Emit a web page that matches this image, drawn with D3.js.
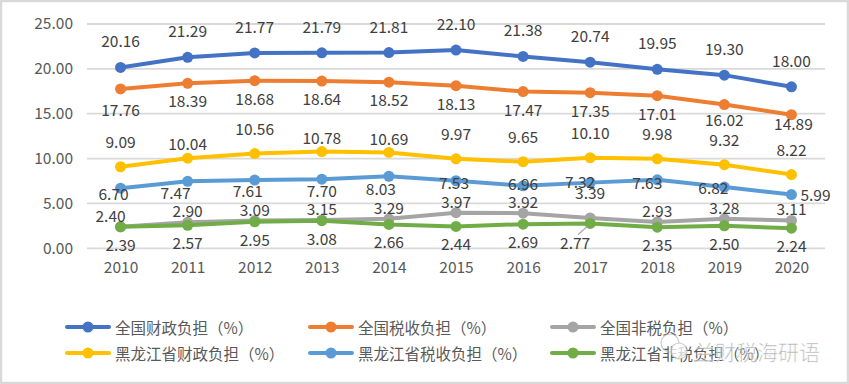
<!DOCTYPE html>
<html><head><meta charset="utf-8">
<script src="https://cdn.jsdelivr.net/npm/d3@7"></script>
<style>
html,body{margin:0;padding:0;background:#fff;}
svg{display:block;}
text{font-family:"Noto Sans CJK SC","Noto Sans",sans-serif;}
</style></head>
<body>
<svg id="c" width="849" height="384"></svg>
<script>
const years = ["2010","2011","2012","2013","2014","2015","2016","2017","2018","2019","2020"];
const yTicks = [0,5,10,15,20,25];
const natFiscal = [20.16,21.29,21.77,21.79,21.81,22.10,21.38,20.74,19.95,19.30,18.00];
const natTax = [17.76,18.39,18.68,18.64,18.52,18.13,17.47,17.35,17.01,16.02,14.89];
const natNonTax = [2.40,2.90,3.09,3.15,3.29,3.97,3.92,3.39,2.93,3.28,3.11];
const hljFiscal = [9.09,10.04,10.56,10.78,10.69,9.97,9.65,10.10,9.98,9.32,8.22];
const hljTax = [6.70,7.47,7.61,7.70,8.03,7.53,6.96,7.32,7.63,6.82,5.99];
const hljNonTax = [2.39,2.57,2.95,3.08,2.66,2.44,2.69,2.77,2.35,2.50,2.24];
const seriesNames = ["全国财政负担（%）","全国税收负担（%）","全国非税负担（%）","黑龙江省财政负担（%）","黑龙江省税收负担（%）","黑龙江省非税负担（%）"];

const series = [
  {name:seriesNames[0], values:natFiscal, color:"#4472C4", dy:-27, dx:0},
  {name:seriesNames[1], values:natTax, color:"#ED7D31", dy:17, dx:0},
  {name:seriesNames[2], values:natNonTax, color:"#A5A5A5", dy:-12, dx:0},
  {name:seriesNames[3], values:hljFiscal, color:"#FFC000", dy:-26, dx:0},
  {name:seriesNames[4], values:hljTax, color:"#5B9BD5", dy:5, dx:-7},
  {name:seriesNames[5], values:hljNonTax, color:"#70AD47", dy:17, dx:0}
];

// label placement tweaks (layout only): [seriesIndex, yearIndex, dx, dy]
const labelTweaks = [
  [1,0,0,20],[1,9,0,14],[1,10,2,8],
  [2,0,-10,-12],[2,7,0,-26],
  [3,1,0,-15],[3,3,0,-15],[3,4,0,-14],
  [4,1,-12,11],[4,2,-7,10],[4,3,0,11],[4,4,-8,12],[4,5,-2,1],[4,6,0,-3],
  [4,7,-10,-2],[4,8,-10,2],[4,9,-11,0],[4,10,24,-1],
  [5,7,-15,19]
];

const svg = d3.select("#c");
svg.append("rect").attr("x",1).attr("y",1).attr("width",847).attr("height",382)
  .attr("fill","#fff").attr("stroke","#d9d9d9").attr("stroke-width",2.5);

const x = d3.scalePoint().domain(years).range([87,825]).padding(0.5);
const y = d3.scaleLinear().domain([0,25]).range([248.3,24]);

svg.append("g").selectAll("line").data(yTicks).join("line")
  .attr("x1",87).attr("x2",825).attr("y1",d=>y(d)).attr("y2",d=>y(d))
  .attr("stroke","#d9d9d9").attr("stroke-width",1.8);

const ya = svg.append("g").attr("transform","translate(87,0)")
  .call(d3.axisLeft(y).tickValues(yTicks).tickFormat(d3.format(".2f")).tickSize(0).tickPadding(14));
ya.select(".domain").remove();
ya.selectAll("text").attr("font-size",15.5).attr("fill","#595959")
  .style("font-family",'"Noto Sans CJK SC",sans-serif');

const xa = svg.append("g").attr("transform","translate(0,248.3)")
  .call(d3.axisBottom(x).tickSize(0).tickPadding(14));
xa.select(".domain").remove();
xa.selectAll("text").attr("font-size",15.5).attr("fill","#595959")
  .style("font-family",'"Noto Sans CJK SC",sans-serif');

const line = d3.line().x((d,i)=>x(years[i])).y(d=>y(d));

series.forEach(s=>{
  const g = svg.append("g");
  g.append("path").attr("d",line(s.values)).attr("fill","none")
    .attr("stroke",s.color).attr("stroke-width",4).attr("stroke-linejoin","round");
  g.selectAll("circle").data(s.values).join("circle")
    .attr("cx",(d,i)=>x(years[i])).attr("cy",d=>y(d)).attr("r",5.5).attr("fill",s.color);
});

{
  const px = x(years[7]), py = y(hljNonTax[7]);
  svg.append("line").attr("x1",px-3).attr("y1",py+3).attr("x2",px-12).attr("y2",py+11)
    .attr("stroke","#a5a5a5").attr("stroke-width",1.2);
}

series.forEach((s,si)=>{
  svg.append("g").selectAll("text").data(s.values).join("text")
    .each(function(d,i){
      const t = labelTweaks.find(a=>a[0]===si && a[1]===i);
      const dx = t ? t[2] : s.dx, dy = t ? t[3] : s.dy;
      d3.select(this).attr("x",x(years[i])+dx).attr("y",y(d)+dy);
    })
    .attr("text-anchor","middle").attr("dominant-baseline","central")
    .attr("font-size",15.5).attr("fill","#404040")
    .text(d=>d.toFixed(2));
});

const lg = svg.append("g");
const colX = [67,310,552], rowY = [327,353];
series.forEach((s,i)=>{
  const cx = colX[i%3], cy = rowY[Math.floor(i/3)];
  const g = lg.append("g").attr("transform",`translate(${cx},${cy})`);
  g.append("line").attr("x1",0).attr("x2",42).attr("y1",0).attr("y2",0)
    .attr("stroke",s.color).attr("stroke-width",4).attr("stroke-linecap","round");
  g.append("circle").attr("cx",21).attr("cy",0).attr("r",5.5).attr("fill",s.color);
  g.append("text").attr("x",48).attr("y",0).attr("dominant-baseline","central")
    .attr("font-size",15.5).attr("fill","#595959").text(s.name);
});

const wm = svg.append("g").attr("opacity",0.75);
wm.append("circle").attr("cx",670).attr("cy",343).attr("r",9).attr("fill","none").attr("stroke","#bbb").attr("stroke-width",1.2);
wm.append("circle").attr("cx",679).attr("cy",351).attr("r",8).attr("fill","#fff").attr("stroke","#bbb").attr("stroke-width",1.2);
wm.append("text").attr("x",694).attr("y",351).attr("dominant-baseline","central")
  .attr("font-size",21).attr("fill","#999").attr("stroke","#fff").attr("stroke-width",0.6)
  .text("兰财税海研语");
</script>
</body></html>
